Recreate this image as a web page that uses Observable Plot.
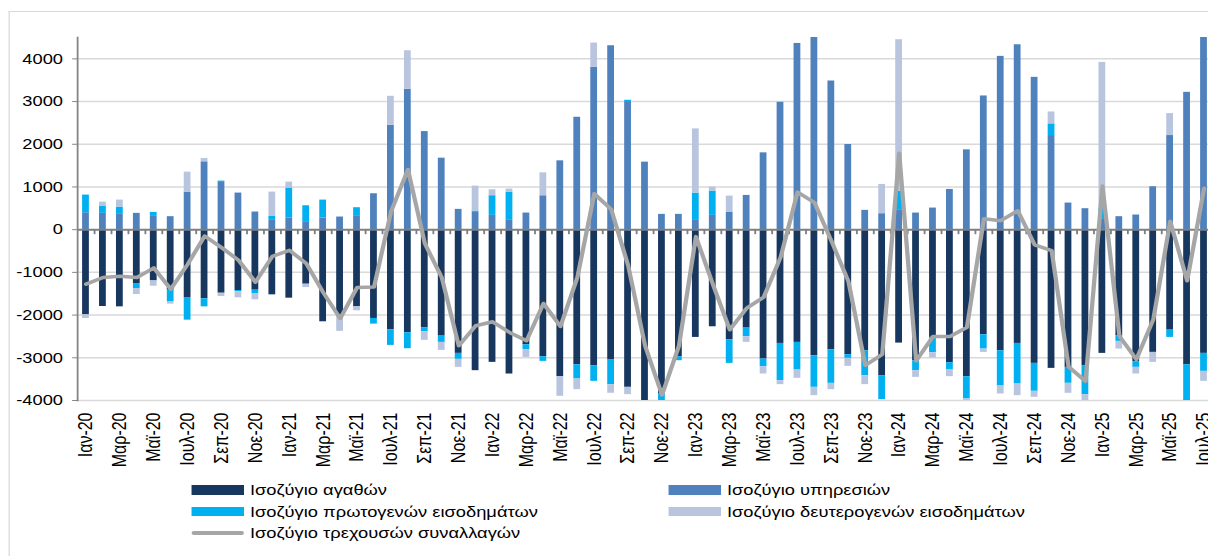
<!DOCTYPE html>
<html><head><meta charset="utf-8">
<script src="https://cdn.jsdelivr.net/npm/d3@7"></script>
<script src="https://cdn.jsdelivr.net/npm/@observablehq/plot@0.6"></script>
<style>
html,body{margin:0;padding:0;background:#fff;overflow:hidden;width:1208px;height:556px;}
#wrap{position:absolute;left:0;top:0;height:556px;transform-origin:0 0;font-family:"Liberation Sans",Arial,sans-serif;color:#000;}
#border{position:absolute;top:11px;height:700px;border-left:1px solid #d9d9d9;border-top:1px solid #d9d9d9;}
#chart{position:absolute;left:0;top:0;}
.sw{position:absolute;}
.lt{position:absolute;font-size:15px;line-height:18px;white-space:nowrap;}
</style></head><body><div id="wrap"><div id="border"></div><div id="chart"></div></div>
<script>
const months = ["Ιαν-20","Φεβ-20","Μαρ-20","Απρ-20","Μαϊ-20","Ιουν-20","Ιουλ-20","Αυγ-20","Σεπ-20","Οκτ-20","Νοε-20","Δεκ-20",
"Ιαν-21","Φεβ-21","Μαρ-21","Απρ-21","Μαϊ-21","Ιουν-21","Ιουλ-21","Αυγ-21","Σεπ-21","Οκτ-21","Νοε-21","Δεκ-21",
"Ιαν-22","Φεβ-22","Μαρ-22","Απρ-22","Μαϊ-22","Ιουν-22","Ιουλ-22","Αυγ-22","Σεπ-22","Οκτ-22","Νοε-22","Δεκ-22",
"Ιαν-23","Φεβ-23","Μαρ-23","Απρ-23","Μαϊ-23","Ιουν-23","Ιουλ-23","Αυγ-23","Σεπ-23","Οκτ-23","Νοε-23","Δεκ-23",
"Ιαν-24","Φεβ-24","Μαρ-24","Απρ-24","Μαϊ-24","Ιουν-24","Ιουλ-24","Αυγ-24","Σεπ-24","Οκτ-24","Νοε-24","Δεκ-24",
"Ιαν-25","Φεβ-25","Μαρ-25","Απρ-25","Μαϊ-25","Ιουν-25","Ιουλ-25"];

const goods = [-1994,-1799,-1807,-1262,-1199,-1417,-1589,-1620,-1488,-1425,-1417,-1526,
-1604,-1277,-2157,-1994,-1807,-2079,-2344,-2414,-2297,-2492,-2897,-3302,
-3107,-3380,-2695,-2975,-3442,-3162,-3185,-3053,-3692,-4300,-3850,-2975,
-2523,-2274,-2578,-2305,-3030,-2664,-2640,-2952,-2812,-2928,-2835,-3419,
-2656,-3069,-2523,-3115,-3442,-2461,-2835,-2664,-3131,-3248,-3224,-3185,
-2897,-2484,-3092,-2874,-2352,-3162,-2897];
const services = [397,382,358,382,327,304,880,1589,1106,857,413,218,
273,171,273,296,327,841,2445,3287,2297,1674,475,405,
335,218,389,794,1612,2632,3801,4307,2999,1581,358,358,
234,335,413,802,1799,2983,4361,4520,3481,1994,452,374,
452,389,506,942,1869,3131,4058,4330,3567,2204,623,491,
257,304,343,1005,2204,3216,4520];
const primaryIncome = [413,171,171,-117,78,-265,-530,-187,31,-31,-78,101,
701,389,420,-30,187,-132,-366,-374,-93,-148,-140,31,
460,662,-117,-109,0,-335,-366,-576,31,0,-380,-93,
623,569,-553,-202,-179,-872,-646,-740,-787,-86,-584,-561,
452,-234,-358,-171,-522,-335,-826,-950,-654,273,-374,-678,
257,-132,-132,0,-171,-1250,-421];
const secondaryIncome = [-86,93,164,-140,-125,-62,467,78,-78,-140,-148,561,
140,-78,0,-358,-93,0,678,903,-202,-187,-187,584,
140,70,-179,537,-460,-249,569,-202,-171,-50,0,0,
1503,93,374,-132,-171,-93,-195,-195,-148,-187,-210,685,
3544,-156,-125,-156,-190,-78,-187,-273,-140,280,-234,-179,
3403,-179,-156,-234,514,0,-234];
const currentAccount = [-1277,-1121,-1090,-1121,-896,-1394,-810,-148,-420,-716,-1230,-623,
-483,-794,-1472,-2079,-1355,-1340,420,1410,-327,-1121,-2718,-2251,
-2157,-2407,-2601,-1729,-2266,-1121,841,475,-840,-2718,-3870,-2718,
-163,-1277,-2344,-1837,-1581,-646,880,633,-266,-1207,-3177,-2921,
1792,-3070,-2500,-2500,-2285,257,210,443,-358,-491,-3209,-3551,
1020,-2491,-3037,-2103,195,-1196,968];

const seriesNames = ["Ισοζύγιο αγαθών","Ισοζύγιο υπηρεσιών","Ισοζύγιο πρωτογενών εισοδημάτων","Ισοζύγιο δευτερογενών εισοδημάτων"];
const lineName = "Ισοζύγιο τρεχουσών συναλλαγών";
const seriesColors = ["#17375e","#4f81bd","#00b0f0","#b9c5df"];
const lineColor = "#a6a6a6";
const yTicks = [-4000,-3000,-2000,-1000,0,1000,2000,3000,4000];
const yDomain = [-4000, 4500];

const S = 1.22; // horizontal stretch of the reference rendering
const wrap = document.getElementById("wrap");
wrap.style.transform = `scaleX(${S})`;
wrap.style.width = (1215 / S) + "px";
document.getElementById("border").style.left = (8 / S) + "px";
document.getElementById("border").style.width = "2000px";

const seriesValues = [goods, services, primaryIncome, secondaryIncome];
const rows = [];
seriesNames.forEach((name, k) => months.forEach((m, i) => rows.push({month: m, series: name, value: seriesValues[k][i]})));
const caRows = months.map((m, i) => ({month: m, ca: currentAccount[i]}));
const baseRows = months.map(m => ({month: m, base: 0}));

const marginLeft = 77 / S;
const plotW = 1135 / S;
const step = plotW / months.length;
const tickSym = {draw(ctx) { ctx.moveTo(0, 0); ctx.lineTo(0, 4.5); }};

const chart = Plot.plot({
  width: marginLeft + plotW + 1,
  height: 470,
  marginLeft, marginRight: 1, marginTop: 37, marginBottom: 70,
  style: {fontFamily: "'Liberation Sans', Arial, sans-serif", fontSize: "15px", color: "#000", background: "transparent", overflow: "visible"},
  x: {type: "band", domain: months, paddingInner: 0.6, paddingOuter: 0.3, align: 0.5, label: null},
  y: {domain: yDomain, label: null},
  color: {domain: seriesNames, range: seriesColors},
  marks: [
    Plot.ruleY(yTicks.filter(d => d !== 0), {stroke: "#d9d9d9", strokeWidth: 1.5}),
    Plot.barY(rows, {x: "month", y: "value", fill: "series", clip: true}),
    Plot.ruleY([0], {stroke: "#7f7f7f", strokeWidth: 2}),
    Plot.dot(baseRows, {x: "month", y: "base", dx: step / 2, symbol: tickSym, r: 3, stroke: "#7f7f7f", strokeWidth: 1.5, fill: "none"}),
    Plot.frame({anchor: "left", stroke: "#868686", strokeWidth: 1.5}),
    Plot.axisY({ticks: yTicks, tickSize: 4, tickPadding: 8, tickFormat: d => String(d), stroke: "#868686", fill: "#000", fontSize: 15, label: null}),
    Plot.axisX({ticks: months.filter((_, i) => i % 2 === 0), tickRotate: -90, tickSize: 0, tickPadding: 12, fontSize: 16, fill: "#000", label: null}),
    Plot.line(caRows, {x: "month", y: "ca", stroke: lineColor, strokeWidth: 3.5, strokeLinejoin: "round", clip: true})
  ]
});
document.getElementById("chart").appendChild(chart);

// legend (Excel style, two columns)
const legendItems = [
  {label: seriesNames[0], color: seriesColors[0], col: 0, row: 0, type: "rect"},
  {label: seriesNames[2], color: seriesColors[2], col: 0, row: 1, type: "rect"},
  {label: lineName, color: lineColor, col: 0, row: 2, type: "line"},
  {label: seriesNames[1], color: seriesColors[1], col: 1, row: 0, type: "rect"},
  {label: seriesNames[3], color: seriesColors[3], col: 1, row: 1, type: "rect"}
];
const colSw = [192 / S, 669 / S], colTx = [250 / S, 727 / S], rowY = [490, 511.5, 533];
legendItems.forEach(it => {
  const sw = document.createElement("div");
  sw.className = "sw";
  sw.style.left = colSw[it.col] + "px";
  sw.style.width = (52 / S) + "px";
  sw.style.background = it.color;
  if (it.type === "rect") { sw.style.top = (rowY[it.row] - 4.7) + "px"; sw.style.height = "9.4px"; }
  else { sw.style.top = (rowY[it.row] - 2) + "px"; sw.style.height = "4px"; sw.style.borderRadius = "2px"; }
  wrap.appendChild(sw);
  const tx = document.createElement("div");
  tx.className = "lt";
  tx.style.left = colTx[it.col] + "px";
  tx.style.top = (rowY[it.row] - 9) + "px";
  tx.textContent = it.label;
  wrap.appendChild(tx);
});
</script>
</body></html>
